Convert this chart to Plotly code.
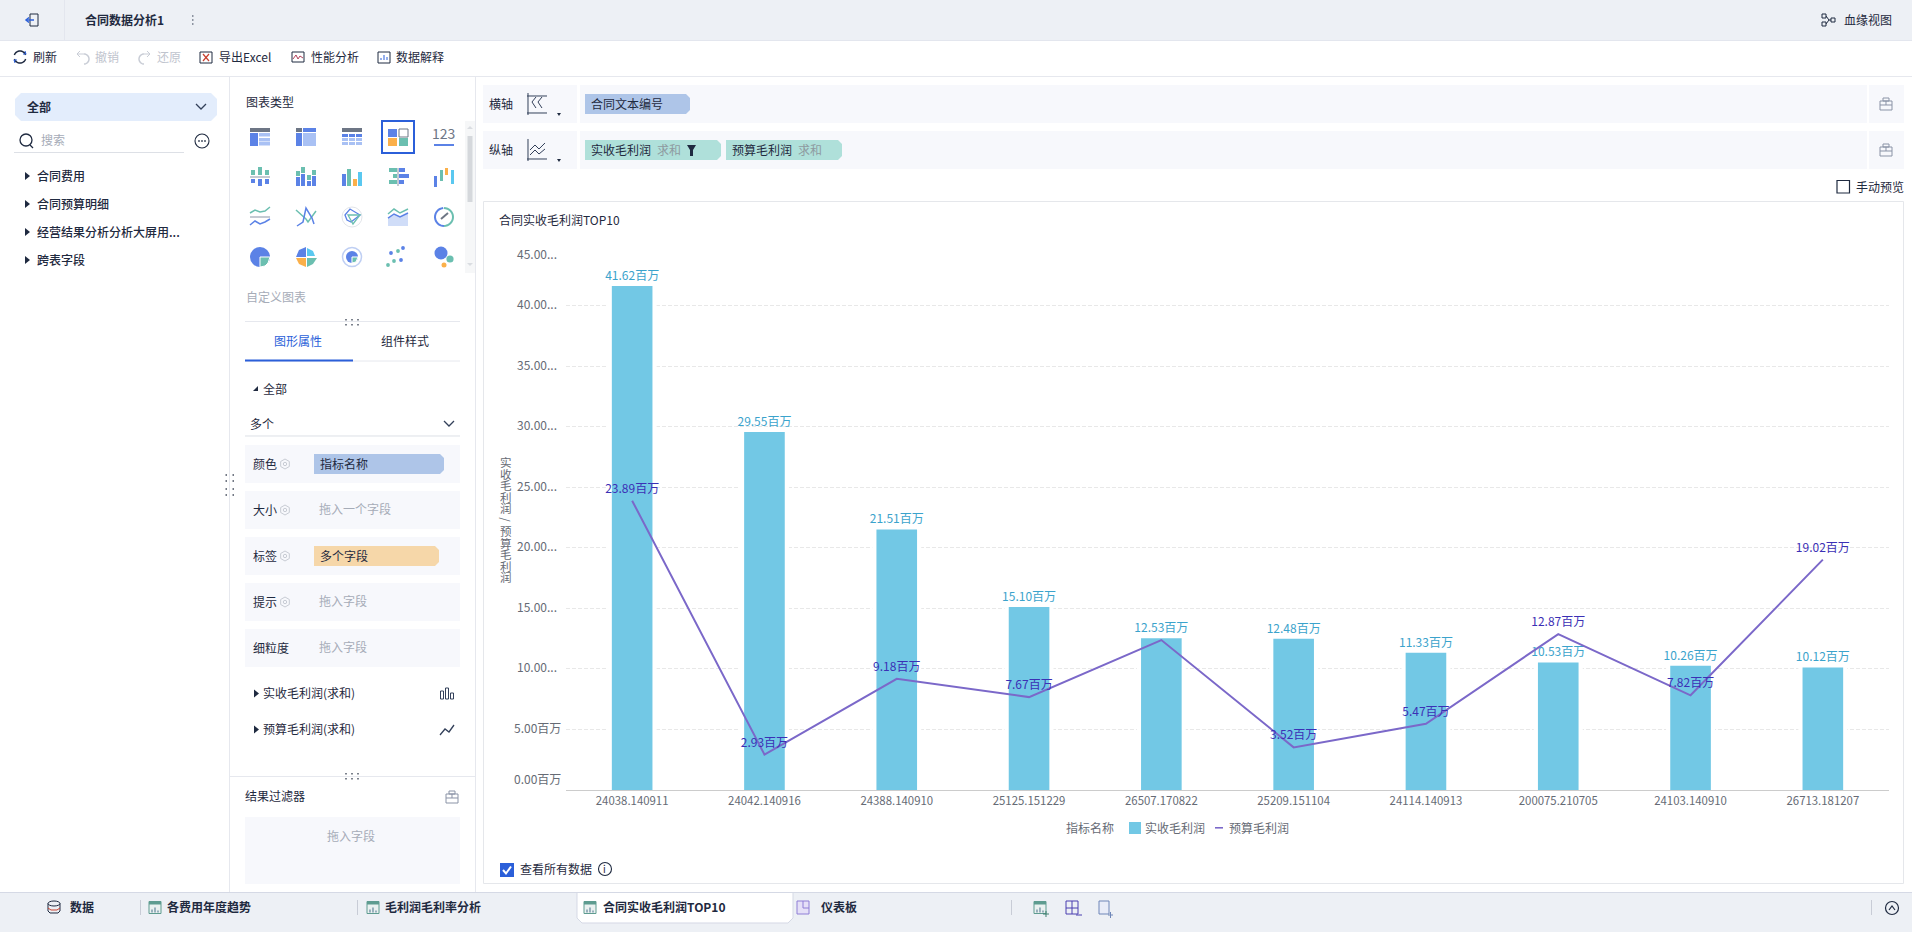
import math
import plotly.graph_objects as go

# chart values (millions)
contract_ids = ['24038.140911', '24042.140916', '24388.140910', '25125.151229', '26507.170822',
                '25209.151104', '24114.140913', '200075.210705', '24103.140910', '26713.181207']
actual_profit = [41.62, 29.55, 21.51, 15.10, 12.53, 12.48, 11.33, 10.53, 10.26, 10.12]
budget_profit = [23.89, 2.93, 9.18, 7.67, 12.38, 3.52, 5.47, 12.87, 7.82, 19.02]
budget_labels = ['23.89百万', '2.93百万', '9.18百万', '7.67百万', '', '3.52百万', '5.47百万', '12.87百万', '7.82百万', '19.02百万']
actual_labels = ['41.62百万', '29.55百万', '21.51百万', '15.10百万', '12.53百万', '12.48百万', '11.33百万', '10.53百万', '10.26百万', '10.12百万']
tick_values = [0, 5, 10, 15, 20, 25, 30, 35, 40, 45]
tick_labels = ['0.00百万', '5.00百万', '10.00...', '15.00...', '20.00...', '25.00...', '30.00...', '35.00...', '40.00...', '45.00...']

W, H = 1912, 932
FONT = 'Noto Sans CJK SC'
DARK = '#1F2A40'
GRAY = '#A6ACB8'
BLUE = '#5B82E6'
LIGHT = '#A9C1F4'
TEAL = '#6BBFB0'
ORANGE = '#FBB04A'
SKY = '#5AC8F0'
SLATE = '#6D7685'
PANEL = '#F7F8FC'

shapes = []
annotations = []


def px(x):
    return x / W


def py(y):
    return 1 - y / H


def rect(x0, y0, x1, y1, fill=None, line=None, lw=1):
    shapes.append(dict(type='rect', xref='paper', yref='paper', x0=px(x0), x1=px(x1), y0=py(y0), y1=py(y1),
                       fillcolor=fill or 'rgba(0,0,0,0)', line=dict(color=line or 'rgba(0,0,0,0)', width=lw if line else 0),
                       layer='below'))


def circle(cx, cy, r, fill=None, line=None, lw=1, ry=None):
    ry = ry or r
    shapes.append(dict(type='circle', xref='paper', yref='paper', x0=px(cx - r), x1=px(cx + r), y0=py(cy - ry), y1=py(cy + ry),
                       fillcolor=fill or 'rgba(0,0,0,0)', line=dict(color=line or 'rgba(0,0,0,0)', width=lw if line else 0),
                       layer='below'))


def poly(points, line=None, lw=1, fill=None, close=False):
    path = 'M ' + ' L '.join(f'{px(x):.5f} {py(y):.5f}' for x, y in points) + (' Z' if close else '')
    shapes.append(dict(type='path', xref='paper', yref='paper', path=path,
                       fillcolor=fill or 'rgba(0,0,0,0)', line=dict(color=line or 'rgba(0,0,0,0)', width=lw if line else 0),
                       layer='below'))


def arc(cx, cy, r, a0, a1, line, lw=1.5, n=16):
    pts = [(cx + r * math.cos(math.radians(a0 + (a1 - a0) * i / n)),
            cy + r * math.sin(math.radians(a0 + (a1 - a0) * i / n))) for i in range(n + 1)]
    poly(pts, line=line, lw=lw)


def pill(x0, y0, x1, y1, fill, r=4):
    # rounded on the right side and bottom, the way the field chips are
    poly([(x0, y0), (x1 - r, y0), (x1, y0 + r), (x1, y1 - r), (x1 - r, y1), (x0, y1)], fill=fill, close=True)


def txt(s, x, y, size=12, color=DARK, anchor='left', weight=400):
    # glyphs sit a little right and low compared to the reference
    annotations.append(dict(text=s, xref='paper', yref='paper', x=px(x - 0.8), y=py(y - 0.7), xanchor=anchor, yanchor='middle',
                            showarrow=False, borderpad=0, font=dict(family=FONT, size=size, color=color, weight=weight)))


def tri_right(x, y, color=DARK):
    poly([(x - 2, y - 4), (x + 3, y), (x - 2, y + 4)], fill=color, close=True)


def chevron(x, y, color='#33405A'):
    poly([(x - 5, y - 3), (x, y + 2), (x + 5, y - 3)], line=color, lw=1.3)


def drag_dots(x, y):
    for dx in (-6, 0, 6):
        rect(x + dx - 0.7, y - 3, x + dx + 0.7, y - 1.6, fill='#444C5C')
        rect(x + dx - 0.7, y + 2, x + dx + 0.7, y + 3.4, fill='#444C5C')


def gear(x, y):
    pts = [(x + 5 * math.cos(math.radians(a)), y + 5 * math.sin(math.radians(a))) for a in range(30, 390, 60)]
    poly(pts, line='#C8CCD4', close=True)
    circle(x, y, 1.7, line='#C8CCD4')


def case_icon(x, y):
    c = '#8A93A6'
    rect(x - 6, y - 3, x + 6, y + 6, line=c)
    rect(x - 3, y - 6, x + 3, y - 3, line=c)
    poly([(x, y - 3), (x, y + 1)], line=c)
    poly([(x - 6, y + 1), (x + 6, y + 1)], line=c)


def chart_icon(x, y, color='#5E9C90'):
    rect(x - 6, y - 6, x + 6, y + 6, fill='#EAF1F0', line=color)
    rect(x - 6, y - 6, x + 6, y - 3, fill=color)
    for dx, h in ((-3, 3), (0, 5), (3, 2)):
        poly([(x + dx, y + 5), (x + dx, y + 5 - h)], line='#46708A')


# page frame
rect(0, 0, W, 40, fill='#EDF0F5')
poly([(0, 40.5), (W, 40.5)], line='#E3E6EE')
poly([(0, 76.5), (W, 76.5)], line='#E6E8EE')
poly([(64.5, 0), (64.5, 40)], line='#E3E6EE')
poly([(229.5, 77), (229.5, 892)], line='#E6E8EE')
poly([(475.5, 77), (475.5, 892)], line='#E6E8EE')

# header
rect(30, 14, 38, 26, line=DARK)
poly([(27, 20), (34, 20)], line='#2B5FD9', lw=1.5)
poly([(29, 17.5), (26, 20), (29, 22.5)], line='#2B5FD9', lw=1.5)
txt('合同数据分析1', 85, 20, weight=600)
for dy in (-4, 0, 4):
    rect(192, 20 + dy - 0.8, 193.5, 20 + dy + 0.8, fill=SLATE)
rect(1822, 14, 1826, 18, line=DARK)
rect(1822, 22, 1826, 26, line=DARK)
rect(1831, 18, 1835, 22, line=DARK)
poly([(1826, 16), (1829, 20), (1826, 24)], line=DARK)
poly([(1829, 20), (1831, 20)], line=DARK)
txt('血缘视图', 1844, 20)

# toolbar
arc(20, 57, 6, 200, 340, DARK)
arc(20, 57, 6, 20, 160, DARK)
poly([(15, 63), (14, 60), (17, 60)], line='#2B5FD9')
poly([(25, 51), (26, 54), (23, 54)], line='#2B5FD9')
txt('刷新', 33, 57)
arc(84, 59, 5, -90, 90, '#C9CDD6')
poly([(77, 54), (84, 54)], line='#C9CDD6')
poly([(80, 51), (77, 54), (80, 57)], line='#C9CDD6')
txt('撤销', 95, 57, color='#BFC4CE')
arc(144, 59, 5, 90, 270, '#C9CDD6')
poly([(144, 54), (150, 54)], line='#C9CDD6')
poly([(147, 51), (150, 54), (147, 57)], line='#C9CDD6')
txt('还原', 157, 57, color='#BFC4CE')
rect(200, 52, 212, 63, line=DARK)
poly([(203, 54), (209, 61)], line='#C8402F', lw=1.2)
poly([(209, 54), (203, 61)], line='#C8402F', lw=1.2)
txt('导出Excel', 219, 57)
rect(292, 52, 304, 62, line=DARK)
poly([(293, 59), (296, 55), (298, 59), (300, 56), (303, 58)], line='#B0405A')
txt('性能分析', 311, 57)
rect(378, 52, 390, 63, line=DARK)
for dx, h in ((-3, 2), (0, 5), (3, 3)):
    poly([(384 + dx, 60), (384 + dx, 60 - h)], line='#2B5FD9')
txt('数据解释', 396, 57)

# field list
poly([(21, 93), (211, 93), (217, 99), (217, 115), (211, 121), (21, 121), (15, 115), (15, 99)], fill='#E3EDFC', close=True)
txt('全部', 27, 107, weight=600)
chevron(201, 107)
circle(26, 140, 6, line=DARK, lw=1.3)
poly([(30, 145), (33, 148)], line=DARK, lw=1.3)
txt('搜索', 41, 140, color=GRAY)
poly([(14, 152.5), (184, 152.5)], line='#DDE0E6')
circle(202, 141, 7, line=DARK, lw=1.1)
for dx in (-3, 0, 3):
    rect(202 + dx - 0.8, 140.2, 202 + dx + 0.8, 141.8, fill=DARK)
for label, y in zip(['合同费用', '合同预算明细', '经营结果分析分析大屏用...', '跨表字段'], [176, 204, 232, 260]):
    tri_right(27, y)
    txt(label, 37, y, weight=500)

# chart type grid
txt('图表类型', 246, 102)
cols = [260, 306, 352, 398, 444]
rows = [137, 177, 217, 257]
rect(476 - 11, 121, 475, 273, fill='#F6F7F8')
rect(467.5, 136, 472.5, 202, fill='#D5D8DC')
poly([(467, 129), (470, 126), (473, 129)], fill='#DADDE1', close=True)
poly([(467, 263), (473, 263), (470, 266)], fill='#DADDE1', close=True)

c = cols[0]; y = rows[0]
rect(c - 10, y - 9, c + 10, y - 5, fill=SLATE)
rect(c - 10, y - 4, c - 2, y + 9, fill=BLUE)
for k in (-4, 1, 5):
    rect(c - 1, y + k, c + 10, y + k + 3.5, fill=LIGHT)
c = cols[1]
rect(c - 10, y - 9, c - 4, y - 5, fill=SLATE)
rect(c - 3, y - 9, c + 10, y - 5, fill=BLUE)
rect(c - 10, y - 4, c - 4, y + 9, fill=BLUE)
rect(c - 3, y - 4, c + 10, y + 9, fill=LIGHT)
c = cols[2]
rect(c - 10, y - 9, c + 10, y - 5, fill=SLATE)
for j, k in enumerate((-3, 1, 5)):
    for dx in (-10, -3, 4):
        rect(c + dx, y + k, c + dx + 6, y + k + 3, fill=BLUE if j == 0 else LIGHT)
c = cols[3]
rect(c - 16, y - 16, c + 16, y + 16, line='#2B5FD9', lw=2)
rect(c - 10, y - 8, c - 1, y, fill=BLUE)
rect(c + 1, y - 8, c + 10, y, fill='white', line=SLATE)
rect(c - 10, y + 1, c - 1, y + 9, fill=ORANGE)
rect(c + 1, y + 1, c + 10, y + 9, fill=TEAL)
c = cols[4]
txt('123', c, y - 3, size=14, color=SLATE, anchor='center')
rect(c - 10, y + 7, c + 10, y + 9, fill=BLUE)

y = rows[1]
c = cols[0]
rect(c - 10, y - 1, c + 10, y + 1, fill='#C5CAD3')
for dx, a, b in ((-7, 5, 4), (0, 8, 7), (7, 5, 5)):
    rect(c + dx - 2, y - 2 - a, c + dx + 2, y - 2, fill=TEAL)
    rect(c + dx - 2, y + 2, c + dx + 2, y + 2 + b, fill=BLUE)
c = cols[1]
for dx, a, b in ((-8, 5, 9), (-3, 6, 12), (3, 5, 5), (8, 5, 10)):
    rect(c + dx - 2, y + 9 - b - a - 1, c + dx + 2, y + 9 - b - 1, fill=TEAL)
    rect(c + dx - 2, y + 9 - b, c + dx + 2, y + 9, fill=BLUE)
c = cols[2]
for dx, h, col in ((-8, 12, BLUE), (-3, 17, TEAL), (3, 7, ORANGE), (8, 14, SKY)):
    rect(c + dx - 2, y + 9 - h, c + dx + 2, y + 9, fill=col)
c = cols[3]
rect(c - 1, y - 9, c + 1, y + 9, fill='#C5CAD3')
for k, a, b in ((-9, 8, 6), (-3, 4, 10), (3, 8, 5)):
    rect(c - 1 - a, y + k, c - 1, y + k + 4, fill=TEAL)
    rect(c + 1, y + k, c + 1 + b, y + k + 4, fill=BLUE)
c = cols[4]
for x0, y0, y1, col in ((-10, -1, 10, BLUE), (-4, -7, 4, TEAL), (1, -9, -2, ORANGE), (7, -7, 7, SKY)):
    rect(c + x0, y + y0, c + x0 + 3, y + y1, fill=col)

y = rows[2]
c = cols[0]
rect(c - 10, y - 1, c + 10, y + 1, fill='#C5CAD3')
poly([(c - 10, y - 4), (c - 5, y - 7), (c, y - 5), (c + 5, y - 6), (c + 10, y - 10)], line=TEAL, lw=1.5)
poly([(c - 10, y + 8), (c - 5, y + 4), (c, y + 7), (c + 5, y + 5), (c + 10, y + 2)], line=BLUE, lw=1.5)
c = cols[1]
poly([(c - 10, y - 7), (c, y + 2), (c + 2, y + 5), (c + 10, y - 6)], line=TEAL, lw=1.5)
poly([(c - 9, y + 9), (c - 3, y + 5), (c, y - 9), (c + 6, y + 1), (c + 8, y + 7)], line=BLUE, lw=1.5)
c = cols[2]
circle(c, y, 10, line='#E2E5EA')
poly([(c - 7, y - 2), (c - 2, y - 8), (c + 8, y - 2), (c - 1, y + 5), (c - 5, y + 3)], line=BLUE, lw=1.3, close=True)
poly([(c - 4, y - 2), (c + 8, y - 2), (c + 1, y + 7)], line=TEAL, lw=1.3, close=True)
c = cols[3]
poly([(c - 10, y + 1), (c - 4, y - 3), (c + 2, y), (c + 10, y - 4), (c + 10, y + 9), (c - 10, y + 9)], fill='#D0DDF8', close=True)
poly([(c - 10, y - 3), (c - 4, y - 8), (c + 2, y - 4), (c + 10, y - 8)], line=TEAL, lw=1.5)
poly([(c - 10, y + 1), (c - 4, y - 3), (c + 2, y), (c + 10, y - 4)], line=BLUE, lw=1.5)
c = cols[4]
arc(c, y, 9, 90, 265, BLUE, lw=2)
arc(c, y, 9, -90, 90, TEAL, lw=2)
poly([(c - 3, y + 2), (c + 4, y - 4)], line=SLATE, lw=2)

y = rows[3]
c = cols[0]
circle(c, y, 10, fill=BLUE)
poly([(c, y), (c + 10, y), (c + 8, y + 6), (c + 5, y + 9), (c, y + 10)], fill=TEAL, line='white', close=True)
c = cols[1]
poly([(c, y), (c, y - 10), (c - 7, y - 7), (c - 10, y)], fill=BLUE, close=True)
poly([(c + 1, y - 1), (c + 1, y - 9), (c + 7, y - 6), (c + 9, y - 1)], fill=SKY, close=True)
poly([(c, y + 1), (c - 10, y + 1), (c - 7, y + 7), (c, y + 10)], fill=ORANGE, close=True)
poly([(c + 1, y + 1), (c + 11, y + 1), (c + 7, y + 7), (c + 1, y + 10)], fill=TEAL, close=True)
c = cols[2]
circle(c, y, 9.5, line='#BFCFF3', lw=1.5)
circle(c, y, 6, fill=BLUE)
poly([(c, y), (c + 6, y), (c + 4, y + 5), (c, y + 6)], fill=TEAL, line='white', close=True)
c = cols[3]
for dx, dy, col in ((5, -9, BLUE), (-7, -4, BLUE), (0, -6, TEAL), (-10, 8, TEAL), (-4, 4, TEAL), (3, 3, BLUE)):
    circle(c + dx, y + dy, 1.9, fill=col)
c = cols[4]
circle(c - 3, y - 4, 6.5, fill=BLUE)
circle(c + 6, y + 2, 3.6, fill=TEAL)
circle(c, y + 8, 2.5, fill=ORANGE)
txt('自定义图表', 246, 297, color=GRAY)

# properties panel
poly([(245, 321.5), (460, 321.5)], line='#E6E8EE')
drag_dots(352, 322)
txt('图形属性', 299, 341.5, color='#2B5FD9', anchor='center')
txt('组件样式', 406, 341.5, anchor='center')
poly([(245, 361), (460, 361)], line='#E6E8EE')
rect(245, 359.5, 353, 361.5, fill='#2B5FD9')
poly([(253, 391), (258, 386), (258, 391)], fill=DARK, close=True)
txt('全部', 263, 388.7)
txt('多个', 250, 424)
chevron(449, 424)
poly([(245, 436), (460, 436)], line='#DDE0E6')
row_tops = [445, 491, 537, 583, 629]
row_names = ['颜色', '大小', '标签', '提示', '细粒度']
row_hints = ['', '拖入一个字段', '', '拖入字段', '拖入字段']
for top, name, hint in zip(row_tops, row_names, row_hints):
    rect(245, top, 460, top + 38, fill=PANEL)
    txt(name, 253, top + 19)
    if name != '细粒度':
        gear(285, top + 19)
    if hint:
        txt(hint, 319, top + 18, color=GRAY)
pill(314, 454, 444, 474, '#AEC5E8')
txt('指标名称', 320, 464)
pill(314, 546, 439, 566, '#F6D7A9')
txt('多个字段', 320, 556)
tri_right(256, 693.5)
txt('实收毛利润(求和)', 263, 693.5)
for dx, h in ((-5, 8), (0, 11), (5, 6)):
    rect(447 + dx - 1.5, 699 - h, 447 + dx + 1.5, 699, line='#33405A')
tri_right(256, 729.5)
txt('预算毛利润(求和)', 263, 729.5)
poly([(440, 735), (445, 729), (449, 732), (454, 725)], line='#33405A', lw=1.3)
poly([(230, 776.5), (475, 776.5)], line='#E6E8EE')
drag_dots(352, 776)
txt('结果过滤器', 245, 796.6)
case_icon(452, 797)
rect(245, 817, 460, 884, fill=PANEL)
txt('拖入字段', 352, 836.4, color=GRAY, anchor='center')
for dy in (-10, -4, 4, 10):
    rect(225.5, 485 + dy - 0.7, 227, 485 + dy + 0.7, fill='#444C5C')
    rect(232.5, 485 + dy - 0.7, 234, 485 + dy + 0.7, fill='#444C5C')

# axis shelves
for top, name in ((85, '横轴'), (131, '纵轴')):
    rect(483, top, 577, top + 38, fill=PANEL)
    rect(580, top, 1867, top + 38, fill=PANEL)
    rect(1869, top, 1904, top + 38, fill=PANEL)
    txt(name, 489, top + 19.5)
    case_icon(1886, top + 19)
    poly([(557, top + 28), (561, top + 28), (559, top + 31)], fill=DARK, close=True)
    poly([(528, top + 8), (528, top + 30)], line='#33405A')
    poly([(527, top + 28), (547, top + 28)], line='#33405A')
    if top == 85:
        poly([(527, top + 11), (547, top + 11)], line='#33405A')
        poly([(536, top + 12), (532, top + 17), (536, top + 23)], line='#33405A')
        poly([(542, top + 12), (538, top + 17), (542, top + 23)], line='#33405A')
    else:
        poly([(530, top + 19), (535, top + 14), (539, top + 18), (545, top + 12)], line='#33405A')
        poly([(530, top + 24), (535, top + 19), (539, top + 23), (545, top + 18)], line='#33405A')
pill(585, 94, 690, 114, '#AEC5E8')
txt('合同文本编号', 591, 104)
pill(585, 140, 721, 160, '#AFE0DA')
txt('实收毛利润', 591, 150)
txt('求和', 657, 150, color='#8E9AA0')
poly([(687, 145), (696, 145), (693, 150), (693, 156), (690, 156), (690, 150)], fill=DARK, close=True)
pill(726, 140, 842, 160, '#AFE0DA')
txt('预算毛利润', 732, 150)
txt('求和', 798, 150, color='#8E9AA0')
rect(1837, 180.5, 1849.5, 193, line=DARK, lw=1.2)
txt('手动预览', 1856, 187)

# chart frame
rect(483.5, 201.5, 1903.5, 883.5, fill='white', line='#E5E7EB')
txt('合同实收毛利润TOP10', 499, 220.5)

# y axis labels: the first and last are nudged inside the plot in the original
for v, label in zip(tick_values, tick_labels):
    shift = 12 if v == 0 else (-8 if v == 45 else 2)
    annotations.append(dict(text=label, xref='paper', yref='y', x=px(562 if '百万' in label else 558), y=v,
                            yshift=shift, xanchor='right', yanchor='middle', showarrow=False, borderpad=0,
                            font=dict(family=FONT, size=12, color='#666B75')))


# y axis title: upright characters, stacked; small base size sets the tight line spacing
def stacked(chars):
    return '<br>'.join(f'<span style="font-size:11.5px">{ch}</span>' for ch in chars)


for part, yc, angle in (('实收毛利润', 484.7, 0), ('/', 519.2, 90), ('预算毛利润', 553.7, 0)):
    annotations.append(dict(text=stacked(part) if angle == 0 else part, xref='paper', yref='paper', x=px(506), y=py(yc),
                            xanchor='center', yanchor='middle', showarrow=False, borderpad=0, textangle=angle,
                            font=dict(family=FONT, size=8.85 if angle == 0 else 11.5, color='#666B75')))

# legend
txt('指标名称', 1066, 827.7, color='#666B75')
rect(1129, 822, 1141, 834, fill='#72C8E5')
txt('实收毛利润', 1145, 827.7, color='#666B75')
rect(1215, 827, 1223, 828.6, fill='#7B68C9')
txt('预算毛利润', 1229, 827.7, color='#666B75')

# footer of the chart card
rect(500, 863, 514, 877, fill='#2B5FD9')
poly([(503, 870), (506, 873.5), (511, 866.5)], line='white', lw=2)
txt('查看所有数据', 520, 869)
circle(605, 869, 6.5, line=DARK, lw=1.1)
txt('i', 605, 869, size=10, anchor='center')

# bottom tab bar
rect(0, 892.5, W, H, fill='#EDF0F5')
poly([(0, 892.5), (W, 892.5)], line='#D5D9E5')
poly([(577, 893), (577, 918), (582, 923), (788, 923), (793, 918), (793, 893)], fill='white', line='#D5D9E5', close=False)
circle(54, 903.5, 6, line=DARK, ry=2.5)
poly([(48, 903.5), (48, 911), (50, 913), (58, 913), (60, 911), (60, 903.5)], line=DARK)
poly([(48, 908), (51, 910), (57, 910), (60, 908)], line='#C8402F')
txt('数据', 70, 907.5, weight=600)
poly([(140.5, 900), (140.5, 915)], line='#C8CCD6')
chart_icon(155, 907.5)
txt('各费用年度趋势', 167, 907.5, weight=600)
poly([(357.5, 900), (357.5, 915)], line='#C8CCD6')
chart_icon(373, 907.5)
txt('毛利润毛利率分析', 385, 907.5, weight=600)
chart_icon(590, 907.5)
txt('合同实收毛利润TOP10', 603, 907.5, weight=600)
rect(797, 901, 809, 914, fill='#E5E0F7', line='#8F7FD6')
poly([(803, 901), (803, 908), (809, 908)], line='#8F7FD6')
txt('仪表板', 821, 907.5, weight=600)
poly([(1011.5, 900), (1011.5, 915)], line='#C8CCD6')
chart_icon(1040, 907.5)
poly([(1043, 914), (1049, 914)], line='#3F7F6F')
poly([(1046, 911), (1046, 917)], line='#3F7F6F')
rect(1066, 901, 1078, 914, line='#4A3FB0')
poly([(1072, 901), (1072, 914)], line='#4A3FB0')
poly([(1066, 908), (1078, 908)], line='#4A3FB0')
poly([(1076, 915), (1082, 915)], line='#4A3FB0')
rect(1099, 901, 1109, 914, fill='#E8ECF8', line='#6E86B8')
poly([(1108, 915), (1113, 915)], line='#6E86B8')
poly([(1110.5, 912), (1110.5, 918)], line='#6E86B8')
poly([(1871.5, 900), (1871.5, 915)], line='#C8CCD6')
circle(1892, 908, 6.5, line=DARK, lw=1.2)
poly([(1889, 910), (1892, 906), (1895, 910)], line=DARK, lw=1.2)

fig = go.Figure()
# white halo behind the bars, it cuts the grid lines like the original renderer
fig.add_bar(x=contract_ids, y=actual_profit, width=0.37, marker=dict(color='white', line=dict(width=0)),
            hoverinfo='skip', showlegend=False)
fig.add_bar(x=contract_ids, y=actual_profit, width=0.307, name='实收毛利润', marker=dict(color='#72C8E5', line=dict(width=0)),
            text=actual_labels, textposition='outside', cliponaxis=False, constraintext='none',
            textfont=dict(family=FONT, size=12, color='#3BA3CC'))
# transparent markers only push the labels further from the line
fig.add_scatter(x=contract_ids, y=budget_profit, name='预算毛利润', mode='lines+markers+text', line=dict(color='#7B68C9', width=2),
                marker=dict(size=6.4, opacity=0),
                text=budget_labels, textposition='top center', cliponaxis=False,
                textfont=dict(family=FONT, size=12, color='#3B30B5'))

fig.update_layout(
    width=W, height=H, margin=dict(l=0, r=0, t=0, b=0), autosize=False,
    paper_bgcolor='white', plot_bgcolor='rgba(0,0,0,0)',
    barmode='overlay', showlegend=False,
    shapes=shapes, annotations=annotations,
    font=dict(family=FONT, size=12),
    xaxis=dict(type='category', domain=[px(566), px(1889)], range=[-0.5, 9.5], showgrid=False, zeroline=False, showline=True,
               linecolor='#CCCCCC', linewidth=1, ticks='', ticklen=0, tickfont=dict(family=FONT, size=11.4, color='#666B75')),
    yaxis=dict(domain=[py(790), py(245)], range=[0, 45], tickvals=tick_values, showticklabels=False, zeroline=False,
               showgrid=True, gridcolor='#E8E8E8', griddash='4px,2px', gridwidth=1),
)

fig.write_html("out.html", config=dict(displayModeBar=False),
               post_script="document.body.style.margin='0';document.documentElement.style.overflow='hidden';")
